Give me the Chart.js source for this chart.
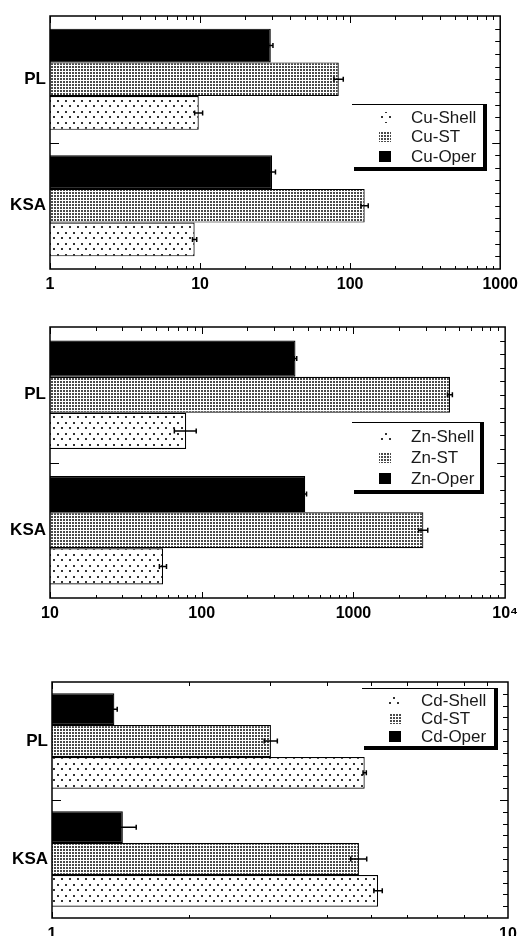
<!DOCTYPE html>
<html>
<head>
<meta charset="utf-8">
<script src="https://cdn.jsdelivr.net/npm/chart.js@4.4.1/dist/chart.umd.min.js"></script>
<style>
  html, body { margin: 0; padding: 0; background: #fff; }
  #wrap { position: relative; width: 524px; height: 936px; overflow: hidden; }
  canvas { position: absolute; left: 0; }
</style>
</head>
<body>
<div id="wrap">
  <canvas id="cuChart" width="524" height="300" style="top:0px"></canvas>
  <canvas id="znChart" width="524" height="330" style="top:300px"></canvas>
  <canvas id="cdChart" width="524" height="306" style="top:630px"></canvas>
</div>
<script>
// categories (top to bottom)
const sites = ["PL", "KSA"];

// Copper
const cuOper = [29.6, 30.2];
const cuOperErr = [1.0, 1.6];
const cuST = [84, 125];
const cuSTErr = [6, 7];
const cuShell = [9.8, 9.2];
const cuShellErr = [0.6, 0.3];
const cuTicks = [1, 10, 100, 1000];
const cuTickLabels = ["1", "10", "100", "1000"];

// Zinc
const znOper = [415, 481];
const znOperErr = [8, 10];
const znST = [4330, 2890];
const znSTErr = [160, 200];
const znShell = [79, 55.6];
const znShellErr = [13, 3];
const znTicks = [10, 100, 1000, 10000];
const znTickLabels = ["10", "100", "1000", "10⁴"];

// Cadmium
const cdOper = [1.37, 1.43];
const cdOperErr = [0.02, 0.1];
const cdST = [3.02, 4.71];
const cdSTErr = [0.1, 0.19];
const cdShell = [4.85, 5.19];
const cdShellErr = [0.04, 0.11];
const cdTicks = [1, 10];
const cdTickLabels = ["1", "10"];

const FONT = "'Liberation Sans', Arial, sans-serif";

// fill patterns for the three sample types
function makePattern(kind) {
  const c = document.createElement("canvas");
  const g = c.getContext("2d");
  if (kind === "shell") {
    c.width = 8; c.height = 11;
    g.fillStyle = "#fff"; g.fillRect(0, 0, 8, 11);
    g.fillStyle = "#333";
    g.fillRect(1, 1, 2, 2);
    g.fillRect(5, 6, 2, 2);
  } else if (kind === "st") {
    c.width = 3; c.height = 3;
    g.fillStyle = "#fff"; g.fillRect(0, 0, 3, 3);
    g.fillStyle = "#4a4a4a";
    g.fillRect(0, 0, 2, 2);
  } else {
    c.width = 2; c.height = 2;
    g.fillStyle = "#000"; g.fillRect(0, 0, 2, 2);
  }
  return g.createPattern(c, "repeat");
}
const shellFill = makePattern("shell");
const stFill = makePattern("st");
const operFill = makePattern("oper");

// frame, inside ticks, error bars and the boxed legend
const decor = {
  id: "decor",
  afterDatasetsDraw(chart, args, opts) {
    const { ctx, chartArea: a, scales: { x, y } } = chart;
    ctx.save();
    ctx.strokeStyle = "#000";

    // error bars
    ctx.lineWidth = 1.5;
    chart.data.datasets.forEach((ds, di) => {
      chart.getDatasetMeta(di).data.forEach((bar, i) => {
        const v = ds.data[i], e = ds.errors[i];
        const x1 = x.getPixelForValue(v - e);
        const x2 = x.getPixelForValue(v + e);
        const cy = bar.y;
        ctx.beginPath();
        ctx.moveTo(x1, cy); ctx.lineTo(x2, cy);
        ctx.moveTo(x1, cy - 2.5); ctx.lineTo(x1, cy + 2.5);
        ctx.moveTo(x2, cy - 2.5); ctx.lineTo(x2, cy + 2.5);
        ctx.stroke();
      });
    });

    // frame
    ctx.lineWidth = 1.5;
    ctx.strokeRect(a.left, a.top, a.right - a.left, a.bottom - a.top);

    // log ticks on top and bottom edges
    ctx.lineWidth = 1;
    ctx.beginPath();
    for (let d = x.min; d < x.max; d *= 10) {
      for (let k = 1; k <= 9; k++) {
        const px = Math.round(x.getPixelForValue(d * k)) + 0.5;
        const len = k === 1 ? 7 : 4;
        ctx.moveTo(px, a.top); ctx.lineTo(px, a.top + len);
        ctx.moveTo(px, a.bottom); ctx.lineTo(px, a.bottom - (k === 1 ? 6 : 3));
      }
    }
    // ticks along the category axis
    for (let j = 1; j < 20; j++) {
      const py = Math.round(y.getPixelForValue(-0.5 + j / 10)) + 0.5;
      const len = j === 10 ? 8 : 5;
      ctx.moveTo(a.right, py); ctx.lineTo(a.right - len, py);
      if (j === 10) { ctx.moveTo(a.left, py); ctx.lineTo(a.left + 9, py); }
    }
    ctx.stroke();

    // legend box with shadow
    const b = opts.box;
    ctx.fillStyle = "#fff";
    ctx.fillRect(b.x, b.y, b.w - 4, b.h - 4);
    ctx.fillStyle = "#000";
    ctx.fillRect(b.x, b.y, b.w - 4, 1);
    ctx.fillRect(b.x + b.w - 4, b.y, 4, b.h);
    ctx.fillRect(b.x + 2, b.y + b.h - 4, b.w - 2, 4);

    ctx.font = "17px " + FONT;
    ctx.textBaseline = "middle";
    ctx.textAlign = "left";
    const order = [2, 1, 0];
    order.forEach((di, r) => {
      const ds = chart.data.datasets[di];
      const cy = b.y + b.rows[r];
      ctx.fillStyle = ds.backgroundColor;
      ctx.fillRect(b.x + 27, cy - 5, 12, 11);
      ctx.fillStyle = "#1a1a1a";
      ctx.fillText(ds.label, b.x + 59, cy + 1);
    });
    ctx.restore();
  }
};

function buildChart(id, cfg) {
  return new Chart(document.getElementById(id), {
    type: "bar",
    data: {
      labels: sites,
      datasets: [
        { label: cfg.names[0], data: cfg.oper, errors: cfg.operErr, backgroundColor: operFill },
        { label: cfg.names[1], data: cfg.st, errors: cfg.stErr, backgroundColor: stFill },
        { label: cfg.names[2], data: cfg.shell, errors: cfg.shellErr, backgroundColor: shellFill },
      ],
    },
    options: {
      indexAxis: "y",
      responsive: false,
      animation: false,
      layout: { padding: { top: cfg.top, right: cfg.right, left: 0, bottom: 0 } },
      datasets: {
        bar: {
          categoryPercentage: cfg.catPct,
          barPercentage: 1,
          borderWidth: 1.2,
          borderColor: "#000",
        },
      },
      scales: {
        x: {
          type: "logarithmic",
          min: cfg.ticks[0],
          max: cfg.ticks[cfg.ticks.length - 1],
          afterBuildTicks: (s) => { s.ticks = cfg.ticks.map((v) => ({ value: v })); },
          afterFit: (s) => { s.height = cfg.xHeight; },
          grid: { display: false, drawTicks: false },
          border: { display: false },
          ticks: {
            callback: (v, i) => cfg.tickLabels[i],
            color: "#000",
            font: { family: FONT, size: 16, weight: "bold" },
            padding: cfg.xPad,
            maxRotation: 0,
            autoSkip: false,
          },
        },
        y: {
          afterFit: (s) => { s.width = cfg.yWidth; },
          grid: { display: false, drawTicks: false },
          border: { display: false },
          ticks: {
            color: "#000",
            font: { family: FONT, size: 17, weight: "bold" },
            padding: 4,
          },
        },
      },
      plugins: {
        legend: { display: false },
        tooltip: { enabled: false },
        decor: { box: cfg.box },
      },
    },
    plugins: [decor],
  });
}

buildChart("cuChart", {
  names: ["Cu-Oper", "Cu-ST", "Cu-Shell"],
  oper: cuOper, operErr: cuOperErr,
  st: cuST, stErr: cuSTErr,
  shell: cuShell, shellErr: cuShellErr,
  ticks: cuTicks, tickLabels: cuTickLabels,
  top: 16, right: 19, yWidth: 50, xHeight: 31, xPad: 6, catPct: 0.8,
  box: { x: 352, y: 104, w: 135, h: 67, rows: [13, 32, 52] },
});

buildChart("znChart", {
  names: ["Zn-Oper", "Zn-ST", "Zn-Shell"],
  oper: znOper, operErr: znOperErr,
  st: znST, stErr: znSTErr,
  shell: znShell, shellErr: znShellErr,
  ticks: znTicks, tickLabels: znTickLabels,
  top: 27, right: 18, yWidth: 50, xHeight: 32, xPad: 6, catPct: 0.8,
  box: { x: 352, y: 122, w: 132, h: 72, rows: [14, 35, 56] },
});

buildChart("cdChart", {
  names: ["Cd-Oper", "Cd-ST", "Cd-Shell"],
  oper: cdOper, operErr: cdOperErr,
  st: cdST, stErr: cdSTErr,
  shell: cdShell, shellErr: cdShellErr,
  ticks: cdTicks, tickLabels: cdTickLabels,
  top: 52, right: 16, yWidth: 52, xHeight: 18, xPad: 7, catPct: 0.81,
  box: { x: 362, y: 58, w: 136, h: 62, rows: [12, 30, 48] },
});
</script>
</body>
</html>
